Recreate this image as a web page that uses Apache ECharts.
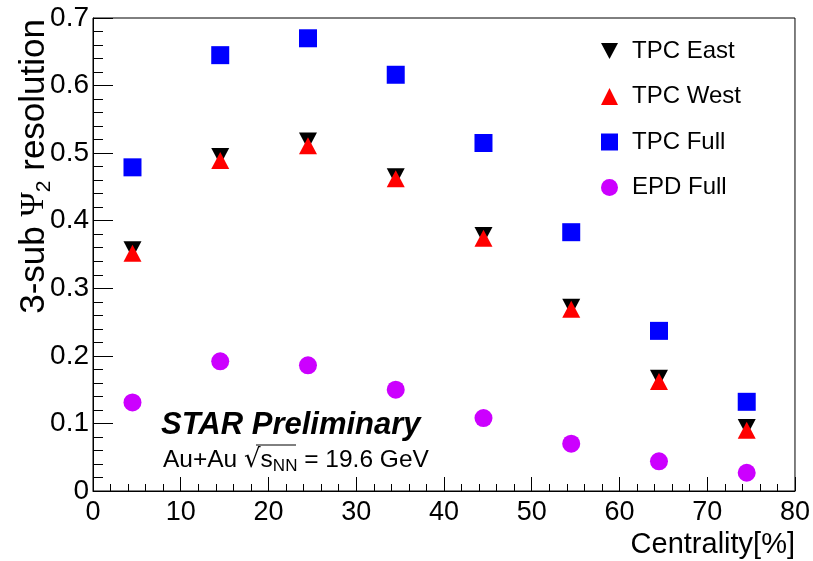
<!DOCTYPE html>
<html>
<head>
<meta charset="utf-8">
<script src="https://cdn.jsdelivr.net/npm/echarts@6/dist/echarts.min.js"></script>
<style>
  html, body { margin: 0; padding: 0; background: #fff; }
  #chart { width: 813px; height: 561px; }
</style>
</head>
<body>
<div id="chart"></div>
<script>
// Centrality bin centres (%)
const centrality = [4.5, 14.5, 24.5, 34.5, 44.5, 54.5, 64.5, 74.5];

// 3-sub event-plane resolution per detector
const tpcEast = [0.357, 0.495, 0.518, 0.465, 0.378, 0.272, 0.167, 0.094];
const tpcWest = [0.352, 0.489, 0.511, 0.462, 0.374, 0.269, 0.162, 0.090];
const tpcFull = [0.479, 0.645, 0.670, 0.616, 0.515, 0.383, 0.237, 0.132];
const epdFull = [0.131, 0.192, 0.186, 0.150, 0.108, 0.070, 0.044, 0.027];

const seriesNames = ['TPC East', 'TPC West', 'TPC Full', 'EPD Full'];

const pairs = arr => centrality.map((c, i) => [c, arr[i]]);
const FONT = 'Liberation Sans, Arial, Helvetica, sans-serif';

// downward-pointing triangle for the legend entry of TPC East
const DOWN_TRIANGLE = 'path://M0,0 L18,0 L9,17 Z';

const chart = echarts.init(document.getElementById('chart'), null, { renderer: 'canvas' });

chart.setOption({
  animation: false,
  backgroundColor: '#fff',
  grid: {
    left: 93, right: 18, top: 18, bottom: 70,
    show: true, borderColor: '#000', borderWidth: 1, backgroundColor: 'transparent'
  },
  xAxis: {
    type: 'value', min: 0, max: 80, interval: 10,
    name: 'Centrality[%]',
    nameLocation: 'end',
    nameGap: 0,
    nameTextStyle: {
      fontFamily: FONT, fontSize: 29, color: '#000',
      align: 'right', verticalAlign: 'top', padding: [39, 0, 0, 0]
    },
    axisLine: { show: true, onZero: false, lineStyle: { color: '#000', width: 1 } },
    axisTick: { show: true, inside: true, length: 14, lineStyle: { color: '#000' } },
    minorTick: { show: true, splitNumber: 5, length: 7, lineStyle: { color: '#000' } },
    splitLine: { show: false },
    axisLabel: { fontFamily: FONT, fontSize: 27, color: '#000', margin: 8, showMinLabel: true, showMaxLabel: true }
  },
  yAxis: {
    type: 'value', min: 0, max: 0.7, interval: 0.1,
    axisLine: { show: true, onZero: false, lineStyle: { color: '#000', width: 1 } },
    axisTick: { show: true, inside: true, length: 20, lineStyle: { color: '#000' } },
    minorTick: { show: true, splitNumber: 5, length: 10, lineStyle: { color: '#000' } },
    splitLine: { show: false },
    axisLabel: { fontFamily: FONT, fontSize: 28, color: '#000', margin: 4, showMinLabel: true, showMaxLabel: true }
  },
  legend: {
    orient: 'vertical',
    left: 596, top: 34,
    itemWidth: 17, itemHeight: 17,
    itemGap: 21.5,
    data: [
      { name: 'TPC East', icon: DOWN_TRIANGLE },
      { name: 'TPC West' },
      { name: 'TPC Full' },
      { name: 'EPD Full' }
    ],
    textStyle: { fontFamily: FONT, fontSize: 24, color: '#000', lineHeight: 24, padding: [0, 0, 0, 9] }
  },
  series: [
    {
      name: seriesNames[0], type: 'scatter', data: pairs(tpcEast),
      symbol: 'triangle', symbolRotate: 180, symbolSize: [18, 17],
      itemStyle: { color: '#000000', opacity: 1 }
    },
    {
      name: seriesNames[1], type: 'scatter', data: pairs(tpcWest),
      symbol: 'triangle', symbolSize: [18, 17],
      itemStyle: { color: '#ff0000', opacity: 1 }
    },
    {
      name: seriesNames[2], type: 'scatter', data: pairs(tpcFull),
      symbol: 'rect', symbolSize: 18,
      itemStyle: { color: '#0000ff', opacity: 1 }
    },
    {
      name: seriesNames[3], type: 'scatter', data: pairs(epdFull),
      symbol: 'circle', symbolSize: 18,
      itemStyle: { color: '#cc00ff', opacity: 1 }
    }
  ],
  graphic: [
    {
      // vertical axis title, reading bottom to top
      type: 'text',
      x: 34, y: 19,
      rotation: Math.PI / 2,
      style: {
        text: '{a|3-sub }{p|Ψ}{s|2}{a| resolution}',
        align: 'right', verticalAlign: 'middle',
        textAlign: 'right', textVerticalAlign: 'middle',
        fill: '#000',
        rich: {
          a: { fontFamily: FONT, fontSize: 35, lineHeight: 42, fill: '#000' },
          p: { fontFamily: 'Liberation Serif, Times New Roman, serif', fontSize: 33, lineHeight: 42, fill: '#000' },
          s: { fontFamily: FONT, fontSize: 21, lineHeight: 21, verticalAlign: 'bottom', fill: '#000' }
        }
      }
    },
    {
      type: 'text',
      x: 161, y: 425,
      style: {
        text: 'STAR Preliminary',
        font: 'italic bold 31px ' + FONT,
        fill: '#000',
        align: 'left', verticalAlign: 'middle',
        textAlign: 'left', textVerticalAlign: 'middle'
      }
    },
    {
      type: 'text',
      x: 163, y: 460,
      style: {
        text: '{n|Au+Au }{r|√}{o|s}{sub|NN}{n| = 19.6 GeV}',
        align: 'left', verticalAlign: 'middle',
        textAlign: 'left', textVerticalAlign: 'middle',
        fill: '#000',
        rich: {
          n: { fontFamily: FONT, fontSize: 24.5, lineHeight: 30, fill: '#000' },
          r: { fontFamily: 'DejaVu Sans, ' + FONT, fontSize: 26, lineHeight: 30, fill: '#000' },
          o: { fontFamily: FONT, fontSize: 24.5, lineHeight: 30, fill: '#000' },
          sub: { fontFamily: FONT, fontSize: 17, lineHeight: 17, verticalAlign: 'bottom', fill: '#000' }
        }
      }
    },
    {
      // bar of the square root over s_NN
      type: 'line',
      shape: { x1: 256, y1: 445, x2: 296, y2: 445 },
      style: { stroke: '#000', lineWidth: 1 }
    }
  ]
});
</script>
</body>
</html>
